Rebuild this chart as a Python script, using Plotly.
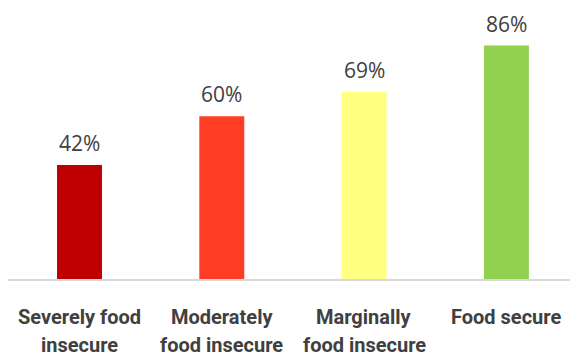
import plotly.graph_objects as go

categories = ["Severely food insecure", "Moderately food insecure", "Marginally food insecure", "Food secure"]
line1 = ["Severely food", "Moderately", "Marginally", "Food secure"]
line2 = ["insecure", "food insecure", "food insecure", ""]
values = [42, 60, 69, 86]
labels = ["42%", "60%", "69%", "86%"]
colors = ["#C00000", "#FF3C24", "#FFFF80", "#92D050"]

fig = go.Figure()
fig.add_trace(go.Bar(x=categories, y=values, marker=dict(color=colors, line=dict(width=0)),
                     width=0.316, hoverinfo="skip"))

for c, v, t in zip(categories, values, labels):
    fig.add_annotation(x=c, y=v, text=t, showarrow=False, yanchor="bottom", yshift=6,
                       font=dict(family="Open Sans", size=21, color="#404040"))
for c, a, b in zip(categories, line1, line2):
    fig.add_annotation(x=c, y=0, text="<b>" + a + "</b>", showarrow=False, yanchor="middle", yshift=-38,
                       font=dict(family="Roboto", size=20, color="#404040"))
    if b:
        fig.add_annotation(x=c, y=0, text="<b>" + b + "</b>", showarrow=False, yanchor="middle", yshift=-66,
                           font=dict(family="Roboto", size=20, color="#404040"))

fig.update_layout(
    width=570, height=356,
    margin=dict(l=8, r=0, t=10, b=77),
    paper_bgcolor="white", plot_bgcolor="white",
    showlegend=False,
    xaxis=dict(range=[-0.5025, 3.447], showticklabels=False, showgrid=False, zeroline=False,
               showline=True, linecolor="#D9D9D9", linewidth=2, ticks=""),
    yaxis=dict(range=[0, 99.1], visible=False),
)

fig.write_html("out.html", config={"displayModeBar": False},
               post_script="document.body.style.margin='0';document.body.style.overflow='hidden';")
